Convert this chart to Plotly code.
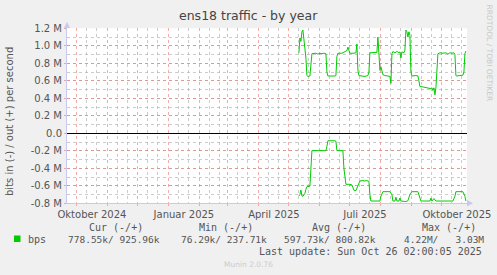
import plotly.graph_objects as go

# ---------------- data ----------------
out_dates = ["2025-05-11","2025-05-12","2025-05-13","2025-05-14","2025-05-15","2025-05-16","2025-05-17",
             "2025-05-18","2025-05-19","2025-05-20","2025-05-22","2025-05-23","2025-05-24","2025-05-28",
             "2025-05-30","2025-06-01","2025-06-03","2025-06-05","2025-06-07","2025-06-08","2025-06-09",
             "2025-06-16","2025-06-17","2025-06-18","2025-06-19","2025-06-23","2025-06-26","2025-06-28",
             "2025-06-29","2025-06-30","2025-07-01","2025-07-05","2025-07-07","2025-07-08","2025-07-09",
             "2025-07-10","2025-07-13","2025-07-16","2025-07-19","2025-07-20","2025-07-21","2025-07-24",
             "2025-07-28","2025-07-29","2025-07-30","2025-07-31","2025-08-01","2025-08-02","2025-08-03",
             "2025-08-05","2025-08-08","2025-08-10","2025-08-11","2025-08-12","2025-08-13","2025-08-15",
             "2025-08-17","2025-08-19","2025-08-20","2025-08-21","2025-08-22","2025-08-24","2025-08-25",
             "2025-08-26","2025-08-27","2025-08-28","2025-08-29","2025-08-30","2025-08-31","2025-09-01",
             "2025-09-05","2025-09-07","2025-09-08","2025-09-09","2025-09-12","2025-09-15","2025-09-18",
             "2025-09-20","2025-09-21","2025-09-22","2025-09-23","2025-09-24","2025-09-25","2025-09-26",
             "2025-09-27","2025-09-29","2025-10-02","2025-10-05","2025-10-07","2025-10-09","2025-10-11",
             "2025-10-13","2025-10-14","2025-10-15","2025-10-16","2025-10-19","2025-10-22","2025-10-23",
             "2025-10-24","2025-10-25"]
out_bps = [0.92,1.09,1.05,1.16,1.18,1.07,0.98,
           0.86,0.66,0.65,0.655,0.85,0.91,0.915,
           0.905,0.915,0.91,0.915,0.91,0.70,0.655,
           0.655,0.66,0.88,0.915,0.915,0.93,0.945,
           0.985,0.93,0.915,0.915,0.92,1.02,0.72,
           0.66,0.655,0.65,0.66,0.70,0.92,0.925,
           0.925,1.10,0.82,0.72,0.76,0.70,0.67,
           0.66,0.655,0.65,0.57,0.91,0.935,0.92,
           0.935,0.92,0.93,0.86,0.93,0.92,0.95,
           1.18,1.16,1.10,1.16,1.12,0.70,0.655,
           0.66,0.655,0.60,0.535,0.53,0.525,0.52,
           0.51,0.52,0.49,0.52,0.44,0.52,0.70,
           0.91,0.92,0.915,0.92,0.905,0.92,0.915,
           0.92,0.90,0.66,0.655,0.66,0.665,0.70,
           0.91,0.94]

in_dates = ["2025-05-11","2025-05-12","2025-05-13","2025-05-14","2025-05-15","2025-05-16","2025-05-17",
            "2025-05-18","2025-05-19","2025-05-22","2025-05-23","2025-05-24","2025-06-01","2025-06-07",
            "2025-06-08","2025-06-09","2025-06-16","2025-06-17","2025-06-18","2025-06-24","2025-06-25",
            "2025-06-27","2025-07-01","2025-07-03","2025-07-05","2025-07-07","2025-07-09","2025-07-11",
            "2025-07-14","2025-07-16","2025-07-18","2025-07-20","2025-07-21","2025-07-22","2025-07-31",
            "2025-08-01","2025-08-03","2025-08-10","2025-08-12","2025-08-13","2025-08-15","2025-08-16",
            "2025-08-17","2025-08-19","2025-08-20","2025-08-21","2025-08-26","2025-08-28","2025-08-30",
            "2025-09-01","2025-09-07","2025-09-09","2025-09-10","2025-09-19","2025-09-20","2025-09-21",
            "2025-09-23","2025-09-25","2025-10-12","2025-10-14","2025-10-15","2025-10-22","2025-10-24",
            "2025-10-25"]
in_bps = [0.716,0.70,0.648,0.716,0.72,0.70,0.686,
          0.64,0.61,0.605,0.40,0.198,0.198,0.198,
          0.15,0.085,0.085,0.09,0.198,0.198,0.40,
          0.583,0.583,0.59,0.65,0.656,0.60,0.545,
          0.54,0.545,0.54,0.55,0.70,0.774,0.774,
          0.72,0.667,0.667,0.70,0.774,0.774,0.73,
          0.774,0.774,0.74,0.774,0.78,0.77,0.70,
          0.667,0.667,0.74,0.774,0.774,0.74,0.774,
          0.745,0.774,0.774,0.72,0.667,0.667,0.72,
          0.774]

y_tick_vals = [-0.8, -0.6, -0.4, -0.2, 0.0, 0.2, 0.4, 0.6, 0.8, 1.0, 1.2]
y_tick_text = ["-0.8 M", "-0.6 M", "-0.4 M", "-0.2 M", "0.0", "0.2 M", "0.4 M", "0.6 M", "0.8 M", "1.0 M", "1.2 M"]
month_starts = ["2024-10-01","2024-11-01","2024-12-01","2025-01-01","2025-02-01","2025-03-01","2025-04-01",
                "2025-05-01","2025-06-01","2025-07-01","2025-08-01","2025-09-01","2025-10-01"]
month_labels = ["Oktober 2024","","","Januar 2025","","","April 2025","","","Juli 2025","","","Oktober 2025"]
minor_days = ["2024-10-11","2024-10-21","2024-11-11","2024-11-21","2024-12-11","2024-12-21",
              "2025-01-11","2025-01-21","2025-02-11","2025-02-21","2025-03-11","2025-03-21",
              "2025-04-11","2025-04-21","2025-05-11","2025-05-21","2025-06-11","2025-06-21",
              "2025-07-11","2025-07-21","2025-08-11","2025-08-21","2025-09-11","2025-09-21",
              "2025-10-11","2025-10-21"]

legend_heads = ["Cur (-/+)", "Min (-/+)", "Avg (-/+)", "Max (-/+)"]
legend_vals = ["778.55k/ 925.96k", "76.29k/ 237.71k", "597.73k/ 800.82k", "4.22M/   3.03M"]

# ---------------- layout helpers ----------------
W, H = 497, 275
def px(x): return x / W
def py(y): return 1 - y / H

GREEN = "#00cc00"
fig = go.Figure()
fig.add_trace(go.Scatter(x=out_dates, y=[v * 1e6 for v in out_bps], mode="lines",
                         line=dict(color=GREEN, width=1), hoverinfo="skip", showlegend=False))
fig.add_trace(go.Scatter(x=in_dates, y=[-v * 1e6 for v in in_bps], mode="lines",
                         line=dict(color=GREEN, width=1), hoverinfo="skip", showlegend=False))

tickfont = dict(family="DejaVu Sans", size=10, color="#555555")
MGRID = "rgba(225,120,120,0.6)"
MINGRID = "rgba(170,170,170,0.6)"

fig.update_layout(
    width=W, height=H, margin=dict(l=0, r=0, t=0, b=0, pad=0), autosize=False,
    paper_bgcolor="#f0f0f0", plot_bgcolor="#ffffff",
    showlegend=False,
    xaxis=dict(type="date", domain=[px(67), px(467)], automargin=False,
               range=["2024-09-21 02:00", "2025-10-26 02:00"],
               tickmode="array", tickvals=month_starts, ticktext=month_labels,
               ticklabelshift=15, ticklabelstandoff=0,
               tickfont=tickfont, ticks="outside", ticklen=2, tickcolor=MGRID,
               showgrid=True, gridcolor=MGRID, griddash="dot", gridwidth=1,
               minor=dict(tickmode="array", tickvals=minor_days, showgrid=True,
                          gridcolor=MINGRID, griddash="dot", gridwidth=1),
               showline=True, linecolor="#c8c8f0", linewidth=1,
               zeroline=False, fixedrange=True),
    yaxis=dict(domain=[py(203.3), py(28.3)], range=[-0.8e6, 1.2e6], automargin=False,
               tickmode="array", tickvals=[v * 1e6 for v in y_tick_vals], ticktext=y_tick_text,
               tickfont=tickfont, ticks="outside", ticklen=2, tickcolor=MGRID,
               showgrid=True, gridcolor=MGRID, griddash="dot", gridwidth=1,
               minor=dict(dtick=1e5, tick0=0, showgrid=True,
                          gridcolor=MINGRID, griddash="dot", gridwidth=1),
               zeroline=True, zerolinecolor="#000000", zerolinewidth=1,
               showline=True, linecolor="#c8c8f0", linewidth=1, fixedrange=True),
)

ann = []
def note(text, x, y, font, xanchor="center", angle=0):
    ann.append(dict(text=text, x=px(x), y=py(y), xref="paper", yref="paper", showarrow=False,
                    font=font, xanchor=xanchor, yanchor="middle", textangle=angle, borderpad=0))

note("ens18 traffic - by year", 248, 15, dict(family="DejaVu Sans", size=12.5, color="#444444"))
note("bits in (-) / out (+) per second", 10, 122, dict(family="DejaVu Sans", size=10, color="#555555"), angle=-90)
note("RRDTOOL / TOBI OETIKER", 489.5, 53, dict(family="DejaVu Sans", size=7.5, color="#c8c8c8"), angle=90)
mono = dict(family="DejaVu Sans Mono", size=9.5, color="#555555")
mono2 = dict(family="DejaVu Sans Mono", size=10, color="#555555")
head_x = [116, 226, 338.7, 449]
for t, xc in zip(legend_heads, head_x):
    note(t, xc, 227.5, mono2)
note("bps", 26.7, 239.5, mono2, xanchor="left")
val_x = [66.7, 180.3, 283.3, 403.3]
for t, xl in zip(legend_vals, val_x):
    note(t, xl, 239.5, mono, xanchor="left")
note("Last update: Sun Oct 26 02:00:05 2025", 482.5, 251.5, mono2, xanchor="right")
note("Munin 2.0.76", 248, 264.5, dict(family="DejaVu Sans", size=7.5, color="#cccccc"))
fig.update_layout(annotations=ann)

shapes = []
shapes.append(dict(type="rect", xref="paper", yref="paper", x0=px(14), x1=px(20.5), y0=py(242), y1=py(235.5),
                   fillcolor=GREEN, line=dict(width=0)))
# axis arrows
shapes.append(dict(type="path", xref="paper", yref="paper",
                   path=f"M {px(64)} {py(28)} L {px(70)} {py(28)} L {px(67)} {py(22)} Z",
                   fillcolor="#c8c8f0", line=dict(width=0)))
shapes.append(dict(type="path", xref="paper", yref="paper",
                   path=f"M {px(467)} {py(200)} L {px(467)} {py(206.5)} L {px(473)} {py(203.3)} Z",
                   fillcolor="#c8c8f0", line=dict(width=0)))
fig.update_layout(shapes=shapes)

fig.write_html("out.html")
